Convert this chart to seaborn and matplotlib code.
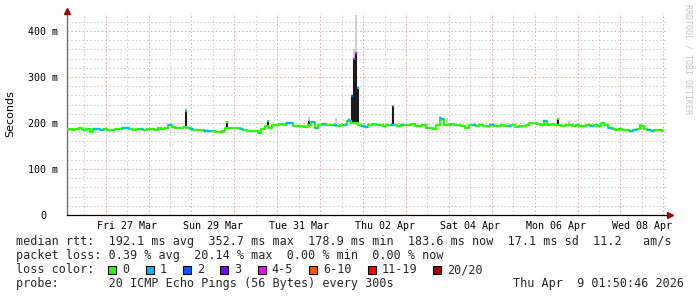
import numpy as np
import pandas as pd
import matplotlib
matplotlib.use("Agg")
import matplotlib.pyplot as plt
import matplotlib.dates as mdates
from matplotlib.patches import Rectangle
from matplotlib.transforms import ScaledTranslation
import seaborn as sns

# ---------------- data ----------------
series_start = "2026-03-26 00:00"   # one sample every 2 hours
step_hours = 2

median_ms = [
    186, 185, 187, 184, 186, 188, 185, 187, 181, 186, 187, 185,   # Mar 26
    186, 185, 184, 186, 187, 188, 188, 186, 185, 187, 186, 185,   # Mar 27
    186, 187, 185, 188, 186, 189, 196, 192, 188, 190, 192, 190,   # Mar 28
    186, 184, 185, 184, 183, 183, 182, 181, 181, 183, 189, 189,   # Mar 29
    189, 189, 187, 184, 183, 182, 183, 179, 187, 193, 190, 196,   # Mar 30
    196, 197, 195, 200, 199, 194, 193, 194, 192, 195, 203, 188,   # Mar 31
    196, 197, 195, 196, 195, 194, 195, 196, 205, 200, 200, 196,   # Apr 1
    193, 192, 196, 197, 195, 196, 194, 196, 195, 196, 194, 195,   # Apr 2
    196, 195, 197, 194, 193, 195, 190, 188, 186, 195, 208, 196,   # Apr 3
    196, 197, 195, 196, 194, 188, 195, 196, 194, 195, 193, 194,   # Apr 4
    195, 193, 194, 195, 194, 193, 195, 192, 194, 193, 195, 199,   # Apr 5
    200, 198, 196, 204, 196, 197, 195, 196, 193, 195, 196, 193,   # Apr 6
    195, 193, 194, 195, 193, 195, 194, 199, 195, 190, 186, 185,   # Apr 7
    186, 185, 184, 183, 184, 187, 194, 186, 184, 183, 185, 184,   # Apr 8
    183.6,                                                        # Apr 9
]

# loss class index per sample (0 -> "0", 1 -> "1", 2 -> "2", ...)
loss_class = [
    0, 0, 0, 0, 0, 0, 0, 0, 0, 1, 1, 1,
    0, 0, 0, 0, 0, 1, 1, 0, 0, 0, 1, 0,
    0, 0, 0, 0, 0, 0, 1, 0, 0, 0, 0, 0,
    1, 0, 0, 0, 1, 1, 0, 0, 0, 0, 0, 0,
    0, 0, 1, 0, 0, 0, 0, 0, 0, 0, 0, 0,
    0, 0, 0, 1, 1, 0, 0, 0, 0, 0, 1, 1,
    0, 1, 0, 0, 1, 0, 0, 1, 1, 0, 0, 0,
    1, 1, 0, 0, 0, 0, 0, 0, 1, 0, 0, 1,
    0, 0, 0, 0, 0, 0, 0, 0, 0, 0, 1, 0,
    0, 0, 0, 0, 0, 0, 0, 1, 0, 0, 0, 0,
    1, 0, 0, 0, 0, 1, 0, 0, 0, 0, 0, 0,
    0, 0, 0, 1, 0, 0, 0, 0, 0, 0, 0, 0,
    0, 0, 0, 0, 1, 0, 0, 0, 0, 1, 0, 0,
    0, 0, 0, 1, 1, 0, 0, 0, 1, 1, 0, 0,
    0,
]

# short latency spikes (1-hour samples)
spike_time = ["2026-03-28 21:00", "2026-03-29 20:00", "2026-03-30 19:00",
              "2026-03-31 18:00", "2026-04-01 09:00", "2026-04-01 16:00",
              "2026-04-01 18:00", "2026-04-01 19:00", "2026-04-01 20:00",
              "2026-04-01 21:00", "2026-04-02 17:00", "2026-04-03 19:00",
              "2026-04-03 23:00", "2026-04-06 05:00", "2026-04-06 13:00",
              "2026-04-06 19:00", "2026-04-07 14:00", "2026-04-08 11:00"]
spike_median = [225, 203, 205, 205, 196, 206, 258, 340, 353, 277, 237, 210,
                196, 205, 208, 196, 200, 196]
spike_loss = [1, 0, 0, 1, 1, 1, 2, 4, 4, 1, 1, 1, 0, 1, 0, 0, 0, 0]
spike_smoke_max = [232, 205, 207, 214, 210, 210, 262, 360, 435, 281, 240, 215,
                   210, 207, 209, 204, 201, 197]

loss_labels = ["0", "1", "2", "3", "4-5", "6-10", "11-19", "20/20"]
loss_colors = ["#26ff00", "#00b8ff", "#0059ff", "#7e00ff", "#ff00ff",
               "#ff5500", "#ff0000", "#a10000"]

y_ticks = [0, 100, 200, 300, 400]
y_ticklabels = ["0", "100 m", "200 m", "300 m", "400 m"]
x_label_dates = ["2026-03-27 12:00", "2026-03-29 12:00", "2026-03-31 12:00",
                 "2026-04-02 12:00", "2026-04-04 12:00", "2026-04-06 12:00",
                 "2026-04-08 12:00"]
x_ticklabels = ["Fri 27 Mar", "Sun 29 Mar", "Tue 31 Mar", "Thu 02 Apr",
                "Sat 04 Apr", "Mon 06 Apr", "Wed 08 Apr"]
view_start = "2026-03-26 02:21"
view_end = "2026-04-09 02:36"

stats_lines = [
    "median rtt:  192.1 ms avg  352.7 ms max  178.9 ms min  183.6 ms now  17.1 ms sd  11.2   am/s",
    "packet loss: 0.39 % avg  20.14 % max  0.00 % min  0.00 % now",
]
probe_text = "probe:       20 ICMP Echo Pings (56 Bytes) every 300s"
stamp_text = "Thu Apr  9 01:50:46 2026"

# ---------------- style ----------------
sns.set_theme(style="white")
plt.rcParams["font.family"] = ["DejaVu Sans Mono", "DejaVu Sans"]

W, H, DPI = 697, 297, 100
fig = plt.figure(figsize=(W / DPI, H / DPI), dpi=DPI, facecolor="white")
L, R, T, B = 67, 668, 13, 215
ax = fig.add_axes([L / W, 1 - B / H, (R - L) / W, (B - T) / H])
ax.set_facecolor("white")

t0 = pd.Timestamp(series_start)
times = t0 + pd.to_timedelta(np.arange(len(median_ms)) * step_hours, unit="h")
xnum = mdates.date2num(times.to_pydatetime())
med = np.array(median_ms, dtype=float)
lc = np.array(loss_class)
df = pd.DataFrame({"t": xnum, "median": med})

half = step_hours / 24 / 2
GREEN = loss_colors[0]
LW = 1.6

# spikes: smoke above, dark smoke below the median
sx = mdates.date2num(pd.to_datetime(spike_time).to_pydatetime())
sidx = np.clip(np.round((sx - xnum[0]) / (step_hours / 24)).astype(int), 0, len(med) - 1)
sbase = med[sidx]
ax.vlines(sx, np.array(spike_median), np.array(spike_smoke_max), colors="#cdcdcd", lw=1.4, zorder=2)
ax.vlines(sx, sbase, np.array(spike_median), colors="#1c1c1c", lw=1.5, zorder=3)

# median line (green = no loss)
sns.lineplot(data=df, x="t", y="median", drawstyle="steps-mid", color=GREEN,
             lw=LW, estimator=None, sort=False, ax=ax, zorder=4)
mask = lc > 0
ax.hlines(med[mask], xnum[mask] - half, xnum[mask] + half,
          colors=[loss_colors[c] for c in lc[mask]], lw=LW, zorder=5)
ax.hlines(np.array(spike_median), sx - 0.5 / 24, sx + 0.5 / 24,
          colors=[loss_colors[c] for c in spike_loss], lw=LW, zorder=6)

# axes limits
ax.set_xlim(mdates.date2num(pd.Timestamp(view_start)), mdates.date2num(pd.Timestamp(view_end)))
ax.set_ylim(0, 439)
ax.set_xlabel("")
ax.set_ylabel("")

GRID_GREY = "#c9c9c9"
GRID_RED = "#e6a3a3"
dots = (0, (1.4, 2.4))

# y grid
ax.set_yticks(y_ticks)
ax.set_yticklabels(y_ticklabels)
ax.set_yticks(np.arange(0, 440, 20), minor=True)
ax.grid(which="minor", axis="y", color=GRID_GREY, ls=dots, lw=0.72, zorder=0)
ax.grid(which="major", axis="y", color=GRID_RED, ls=dots, lw=0.72, zorder=0)

# x grid: grey at noon, red at midnight
lo, hi = pd.Timestamp(view_start), pd.Timestamp(view_end)
for d in pd.date_range(lo.normalize(), hi, freq="12h"):
    if d < lo or d > hi:
        continue
    col = GRID_RED if d.hour == 0 else GRID_GREY
    ax.axvline(mdates.date2num(d), color=col, ls=dots, lw=0.72, zorder=0)

ax.set_xticks(mdates.date2num(pd.to_datetime(x_label_dates).to_pydatetime()))
ax.set_xticklabels(x_ticklabels)
ax.set_axisbelow(True)

ax.tick_params(axis="x", which="both", length=0, pad=4.1, labelsize=7.2, colors="black")
ax.tick_params(axis="y", which="major", length=3, width=0.72, direction="out",
               pad=3.4, labelsize=7.2, color="#555555", labelcolor="black")
ax.tick_params(axis="y", which="minor", length=2, width=0.72, direction="out", color="#777777")

for s in ["top", "right"]:
    ax.spines[s].set_visible(False)
ax.spines["left"].set_color("#666666")
ax.spines["left"].set_linewidth(0.9)
ax.spines["bottom"].set_color("black")
ax.spines["bottom"].set_linewidth(0.9)

# shift the "0" label so it lines up with the digits of the others
zero_lbl = ax.yaxis.get_majorticklabels()[0]
zero_lbl.set_transform(zero_lbl.get_transform() + ScaledTranslation(-12 / DPI, 0, fig.dpi_scale_trans))

# axis arrows
ax.plot([0], [1.012], marker="^", ms=4, color="#a00000", transform=ax.transAxes,
        clip_on=False, zorder=10)
ax.plot([1.004], [0], marker=">", ms=4, color="#a00000", transform=ax.transAxes,
        clip_on=False, zorder=10)

# axis title & watermark
fig.text(10 / W, 1 - 114 / H, "Seconds", rotation=90, ha="center", va="center",
         fontsize=8, family="DejaVu Sans", color="black")
fig.text(688 / W, 1 - 4 / H, "RRDTOOL / TOBI OETIKER", rotation=270, ha="center",
         va="top", fontsize=6, color="#c4c4c4")

# legend / statistics text
FS = 8.5
CW = 7.1
fig.text(16 / W, 1 - 245.5 / H, stats_lines[0], fontsize=FS, va="baseline", ha="left")
fig.text(16 / W, 1 - 259.5 / H, stats_lines[1], fontsize=FS, va="baseline", ha="left")
fig.text(16 / W, 1 - 273.3 / H, "loss color:", fontsize=FS, va="baseline", ha="left")
xpos = 108.3
for lab, col in zip(loss_labels, loss_colors):
    fig.patches.append(Rectangle((xpos / W, 1 - 273.7 / H), 8 / W, 8.2 / H,
                                 transform=fig.transFigure, facecolor=col,
                                 edgecolor="black", lw=0.8))
    fig.text((xpos + 13.8) / W, 1 - 273.3 / H, lab, fontsize=FS, va="baseline", ha="left")
    xpos = xpos + 13.8 + len(lab) * CW + 16.4
fig.text(16 / W, 1 - 287.2 / H, probe_text, fontsize=FS, va="baseline", ha="left")
fig.text(513.3 / W, 1 - 287.2 / H, stamp_text, fontsize=FS, va="baseline", ha="left")

fig.savefig("out.png", dpi=DPI, facecolor="white")
